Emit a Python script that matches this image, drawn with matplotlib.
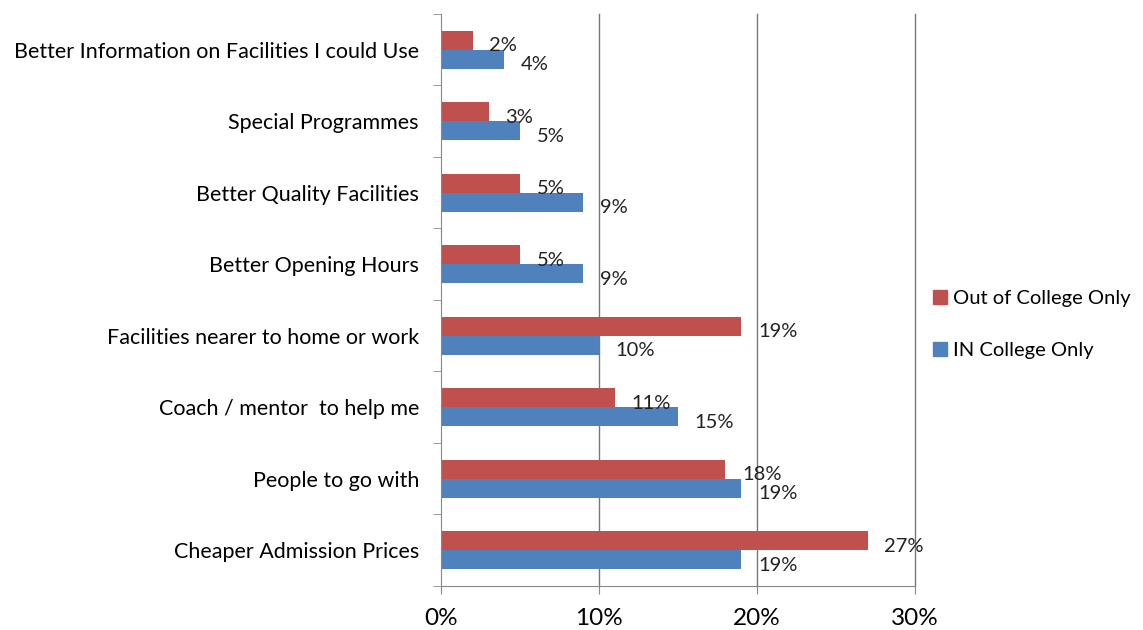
import numpy as np
import matplotlib
matplotlib.use("Agg")
import matplotlib.pyplot as plt
from matplotlib.patches import Patch

categories = ["Better Information on Facilities I could Use", "Special Programmes",
              "Better Quality Facilities", "Better Opening Hours",
              "Facilities nearer to home or work", "Coach / mentor  to help me",
              "People to go with", "Cheaper Admission Prices"]
out_college = [2, 3, 5, 5, 19, 11, 18, 27]
in_college = [4, 5, 9, 9, 10, 15, 19, 19]
xticks = [0, 10, 20, 30]

red = "#C0504D"
blue = "#4F81BD"
plt.rcParams["font.family"] = ["Lato", "DejaVu Sans"]

fig = plt.figure(figsize=(11.43, 6.30), dpi=100)
ax = fig.add_axes([0.386, 0.070, 0.4145, 0.908])

n = len(categories)
y = np.arange(n)
h = 0.265
ax.barh(y - h / 2, out_college, height=h, color=red, label="Out of College Only")
ax.barh(y + h / 2, in_college, height=h, color=blue, label="IN College Only")

for yi, v in zip(y, out_college):
    ax.annotate(f"{v}%", (v, yi - h / 2), xytext=(12, -4), textcoords="offset points",
                va="center", ha="left", fontsize=14.5, color="#222222")
for yi, v in zip(y, in_college):
    ax.annotate(f"{v}%", (v, yi + h / 2), xytext=(12, -4), textcoords="offset points",
                va="center", ha="left", fontsize=14.5, color="#222222")

ax.set_ylim(n - 0.5, -0.5)
ax.set_xlim(0, 30)
ax.set_xticks(xticks)
ax.set_xticklabels([f"{t}%" for t in xticks], fontsize=17.5)
ax.set_yticks(y)
ax.set_yticklabels(categories, fontsize=15.5)
ax.set_yticks(np.arange(n + 1) - 0.5, minor=True)
ax.tick_params(axis="y", which="major", length=0, pad=16)
ax.tick_params(axis="y", which="minor", length=6, color="#888888")
ax.tick_params(axis="x", length=6, color="#888888", pad=10, direction="out")

for t in xticks[1:]:
    ax.axvline(t, color="#777777", linewidth=1, zorder=0, clip_on=False)
for s in ["top", "right"]:
    ax.spines[s].set_visible(False)
ax.spines["left"].set_color("#888888")
ax.spines["bottom"].set_color("#888888")

handles = [Patch(color=red, label="Out of College Only"),
           Patch(color=blue, label="IN College Only")]
fig.legend(handles=handles, loc="center left", bbox_to_anchor=(0.8, 0.485),
           frameon=False, fontsize=14.5, handlelength=0.7, handleheight=0.7,
           handletextpad=0.3, labelspacing=1.7)

fig.savefig("out.png", dpi=100)
